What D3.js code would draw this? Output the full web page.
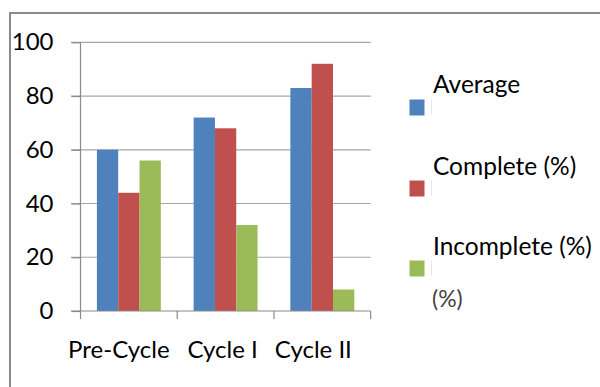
<!DOCTYPE html>
<html><head><meta charset="utf-8">
<script src="https://cdn.jsdelivr.net/npm/d3@7/dist/d3.min.js"></script>
<style>body{margin:0;background:#fff}svg{display:block}text{font-family:Lato,"Open Sans",sans-serif}</style>
</head><body>
<script>
const categories = ["Pre-Cycle", "Cycle I", "Cycle II"];
const seriesNames = ["Average", "Complete (%)", "Incomplete (%)"];
const average = [60, 72, 83];
const complete = [44, 68, 92];
const incomplete = [56, 32, 8];
const yTicks = [0, 20, 40, 60, 80, 100];
const colors = ["#4F81BD", "#C0504D", "#9BBB59"];

const seriesValues = [average, complete, incomplete];
const W = 600, H = 387;
const svg = d3.select("body").append("svg").attr("width", W).attr("height", H);

// outer frame
svg.append("rect").attr("x", 10).attr("y", 13).attr("width", 700).attr("height", 500)
  .attr("fill", "none").attr("stroke", "#8a8a8a").attr("stroke-width", 2);

const x = d3.scaleBand().domain(categories).range([80.5, 370.7]);
const xs = d3.scaleBand().domain(seriesNames).range([0, x.bandwidth()]).paddingInner(0).paddingOuter(0.77);
const y = d3.scaleLinear().domain([0, 100]).range([311, 42.3]);

// gridlines
svg.append("g").selectAll("line").data(yTicks.filter(d => d > 0)).join("line")
  .attr("x1", 71).attr("x2", 370.7)
  .attr("y1", d => y(d)).attr("y2", d => y(d))
  .attr("stroke", "#a6a6a6").attr("stroke-width", 1.2);

// bars
const rows = categories.map((c, i) => ({c, vals: seriesValues.map((s, j) => ({name: seriesNames[j], v: s[i], j}))}));
svg.append("g").selectAll("g").data(rows).join("g")
  .attr("transform", d => `translate(${x(d.c)},0)`)
  .selectAll("rect").data(d => d.vals).join("rect")
  .attr("x", d => xs(d.name)).attr("width", xs.bandwidth())
  .attr("y", d => y(d.v)).attr("height", d => y(0) - y(d.v))
  .attr("fill", d => colors[d.j]);

// y axis
const yAxis = d3.axisLeft(y).tickValues(yTicks).tickSize(9).tickPadding(18);
const gy = svg.append("g").attr("transform", "translate(80.5,0)").call(yAxis);
gy.select(".domain").attr("stroke", "#8a8a8a").attr("stroke-width", 1.2).attr("d", `M0,${y(100)}V${y(0)}`);
gy.selectAll(".tick line").attr("stroke", "#8a8a8a").attr("stroke-width", 1.2);
gy.selectAll(".tick text").attr("font-size", 24).attr("fill", "#000").attr("font-family", "Lato");

// x axis
const xAxis = d3.axisBottom(x).tickSize(0).tickFormat("");
const gx = svg.append("g").attr("transform", `translate(0,${y(0)})`).call(xAxis);
gx.select(".domain").attr("stroke", "#8a8a8a").attr("stroke-width", 1.2).attr("d", `M71,0H370.7`);
const bounds = x.domain().map(c => x(c)).concat([x.range()[1]]);
gx.selectAll(".sep").data(bounds).join("line").attr("class", "sep")
  .attr("x1", d => d).attr("x2", d => d).attr("y1", 0).attr("y2", 8)
  .attr("stroke", "#8a8a8a").attr("stroke-width", 1.2);
const labelShift = [-10, -3, -9];
svg.append("g").selectAll("text").data(categories).join("text")
  .attr("x", (d, i) => x(d) + x.bandwidth() / 2 + labelShift[i]).attr("y", 358)
  .attr("text-anchor", "middle").attr("font-size", 24).attr("fill", "#000").text(d => d);

// legend
const legY = [99.5, 180.5, 260.5];
const legTextY = [93, 175, 255];
const leg = svg.append("g");
seriesNames.forEach((n, i) => {
  leg.append("rect").attr("x", 409.5).attr("y", legY[i]).attr("width", 15).attr("height", 16).attr("fill", colors[i]);
  leg.append("line").attr("x1", 431.5).attr("x2", 431.5).attr("y1", legY[i]).attr("y2", legY[i] + 15)
    .attr("stroke", "#e6e6e6").attr("stroke-width", 1);
  leg.append("text").attr("x", 433).attr("y", legTextY[i]).attr("font-size", 24.5).attr("fill", "#000").text(n);
});
leg.append("text").attr("x", 432).attr("y", 307).attr("font-size", 23).attr("fill", "#444").text("(%)");
</script>
</body></html>
